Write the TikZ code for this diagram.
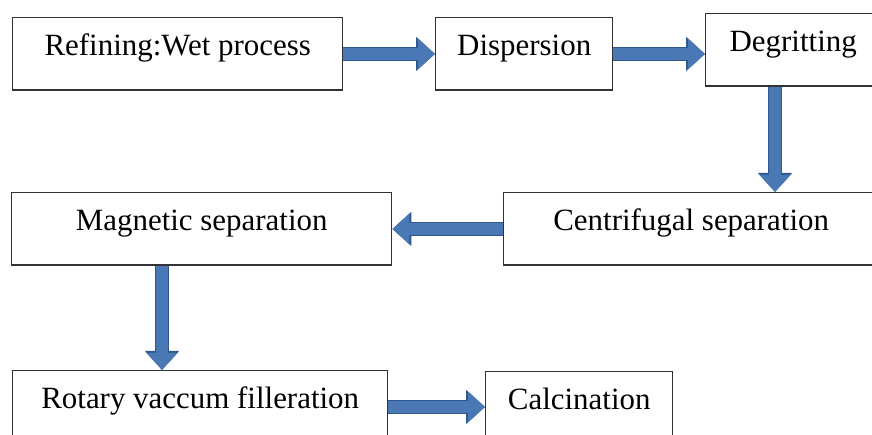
\documentclass[tikz,border=0pt]{standalone}
\usepackage{fontspec}
\setmainfont{Liberation Serif}
\usetikzlibrary{calc,arrows.meta,positioning}

\begin{document}
\begin{tikzpicture}
	\tikzstyle{box} = [draw=black!80,line width=0.8pt,rectangle,anchor=north west,inner xsep=0pt,inner ysep=0pt,text height=0.75cm,text depth=0.7cm,font=\fontsize{17.6}{20}\selectfont]
	\tikzstyle{flow} = [draw={rgb,255:red,74;green,120;blue,181},line width=0.24cm,-{Triangle[width=0.6cm,length=0.34cm]},preaction={draw={rgb,255:red,48;green,88;blue,140},line width=0.28cm,-{Triangle[width=0.66cm,length=0.38cm]}}]
	\useasboundingbox (0,0) rectangle (17.44,-8.70);
	\clip (0,0) rectangle (17.44,-8.70);

	\node[box,minimum width=6.6cm] (refine) at (0.24,-0.34) {Refining:Wet process};
	\node[box,minimum width=3.54cm] (disperse) at (8.70,-0.34) {Dispersion};
	\node[box,minimum width=3.5cm] (degrit) at (14.10,-0.26) {Degritting};
	\node[box,minimum width=7.5cm] (centrifuge) at (10.06,-3.84) {Centrifugal separation};
	\node[box,minimum width=7.6cm] (magnet) at (0.22,-3.84) {Magnetic separation};
	\node[box,minimum width=7.5cm] (rotary) at (0.24,-7.40) {Rotary vaccum filleration};
	\node[box,minimum width=3.74cm] (calcine) at (9.70,-7.42) {Calcination};

	\coordinate (D) at ([xshift=1.4cm]degrit.south west);
	\coordinate (M) at ([xshift=3.02cm]magnet.south west);

	\draw[flow] (refine) -- (disperse);
	\draw[flow] (disperse.east) -- (disperse.east -| degrit.west);
	\draw[flow] (D) -- (D |- centrifuge.north);
	\draw[flow] (centrifuge) -- (magnet);
	\draw[flow] (M) -- (M |- rotary.north);
	\draw[flow] (rotary.east) -- (rotary.east -| calcine.west);
\end{tikzpicture}
\end{document}
